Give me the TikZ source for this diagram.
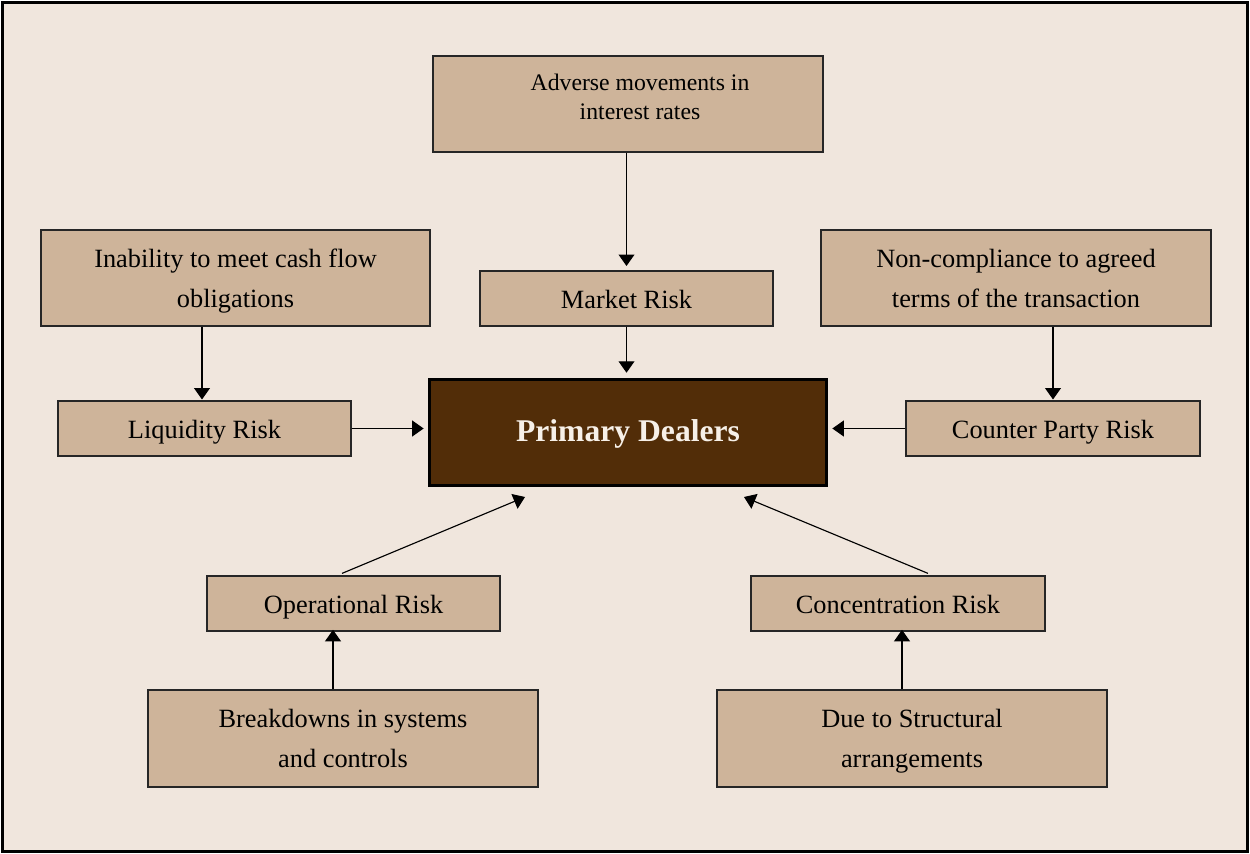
\documentclass[tikz,border=0pt]{standalone}
\usepackage{fontspec}
\setmainfont{Liberation Serif}
\usetikzlibrary{arrows.meta}
\definecolor{bg}{HTML}{F0E6DD}
\definecolor{boxfill}{HTML}{CEB49A}
\definecolor{dark}{HTML}{522D08}
\definecolor{paletxt}{HTML}{F7F0E8}
\begin{document}
\begin{tikzpicture}[x=0.02cm,y=-0.02cm,
  rbox/.style={draw=black!85, line width=0.7pt, fill=boxfill, align=center,
    font=\fontsize{15}{22.7}\selectfont, inner sep=0pt},
  one/.style={text height=14.2pt, text depth=3pt},
  two/.style={text depth=0pt},
  small/.style={font=\fontsize{13.5}{16.4}\selectfont},
  arr/.style={-{Triangle[length=6.5pt,width=9pt]}, line width=0.65pt}]
\useasboundingbox (0,0) rectangle (1250,854);
\draw[line width=1.3pt, fill=bg] (2.5,2.5) rectangle (1247.5,851.5);

\node[rbox, small, minimum width=7.8cm, minimum height=1.92cm, text depth=0.3cm] (adv) at (628,104) {\hspace*{0.48cm}Adverse movements in\\\hspace*{0.48cm}interest rates};
\node[rbox, one, minimum width=5.86cm, minimum height=1.1cm] (mkt) at (626.5,298.5) {Market Risk};
\node[rbox, two, minimum width=7.78cm, minimum height=1.92cm] (inab) at (235.5,278) {Inability to meet cash flow\\obligations};
\node[rbox, two, minimum width=7.8cm, minimum height=1.92cm] (nonc) at (1016,278) {Non-compliance to agreed\\terms of the transaction};
\node[rbox, one, minimum width=5.86cm, minimum height=1.1cm] (liq) at (204.5,428.5) {Liquidity Risk};
\node[draw=black, line width=1.7pt, fill=dark, text=paletxt, minimum width=7.94cm, minimum height=2.12cm,
  text height=14.5pt, text depth=3.9pt,
  font=\fontsize{18}{22}\selectfont\bfseries] (pd) at (628,432.5) {Primary Dealers};
\node[rbox, one, minimum width=5.88cm, minimum height=1.1cm] (cp) at (1053,428.5) {Counter Party Risk};
\node[rbox, one, minimum width=5.86cm, minimum height=1.1cm] (op) at (353.5,603.5) {Operational Risk};
\node[rbox, one, minimum width=5.88cm, minimum height=1.1cm] (conc) at (898,603.5) {Concentration Risk};
\node[rbox, two, minimum width=7.8cm, minimum height=1.94cm] (brk) at (343,738.5) {Breakdowns in systems\\and controls};
\node[rbox, two, minimum width=7.8cm, minimum height=1.94cm] (due) at (912,738.5) {Due to Structural\\arrangements};

\draw[arr, shorten >=2.5pt] (adv.south -| mkt.north) -- (mkt.north);
\draw[arr, shorten >=3pt] (mkt.south) -- (mkt.south |- pd.north);
\draw[arr, shorten >=0.5pt] (inab.south -| 202,0) -- (liq.north -| 202,0);
\draw[arr, shorten >=0.5pt] (nonc.south -| cp.north) -- (cp.north);
\draw[arr, shorten >=2.5pt] (liq.east) -- (liq.east -| pd.west);
\draw[arr, shorten >=2.5pt] (cp.west) -- (cp.west -| pd.east);
\draw[arr] ([xshift=-0.23cm,yshift=0.04cm]op.north) -- ([xshift=-2.06cm,yshift=-0.2cm]pd.south);
\draw[arr] ([xshift=0.6cm,yshift=0.04cm]conc.north) -- ([xshift=2.32cm,yshift=-0.2cm]pd.south);
\draw[arr, shorten >=-1pt] (brk.north -| 333,0) -- (op.south -| 333,0);
\draw[arr, shorten >=-1pt] (due.north -| 902,0) -- (conc.south -| 902,0);
\end{tikzpicture}
\end{document}
